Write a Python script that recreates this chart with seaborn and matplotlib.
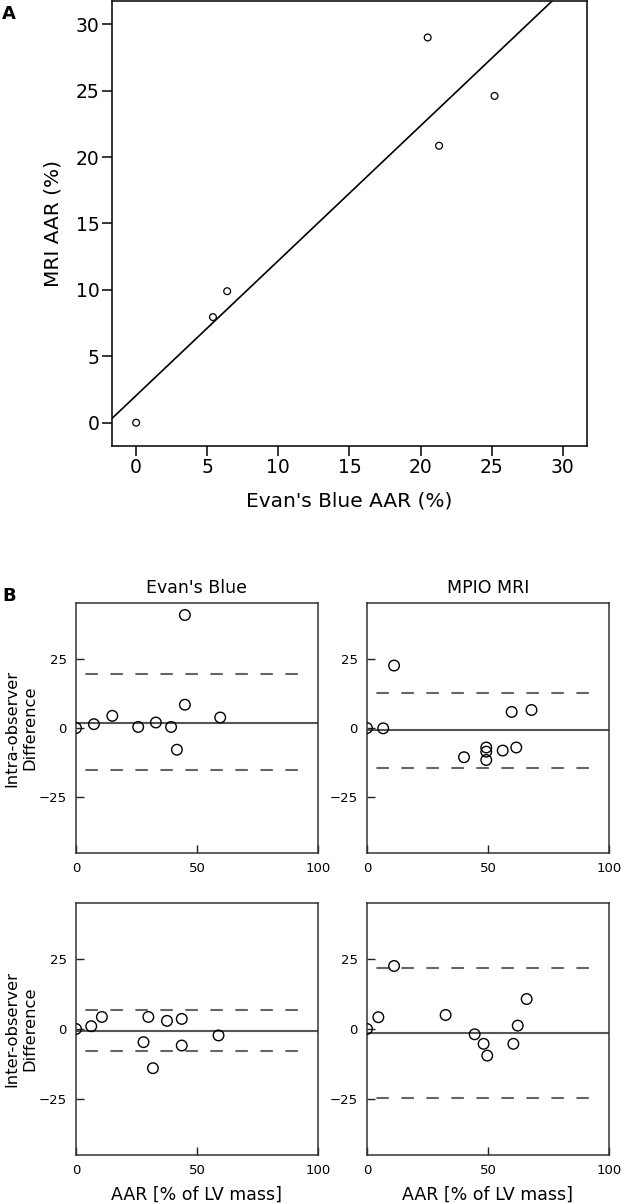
import numpy as np
import pandas as pd
import matplotlib
matplotlib.use("Agg")
import matplotlib.pyplot as plt
import seaborn as sns

# ---------------- panel A: MRI vs Evan's Blue ----------------
evans_aar = [0.0, 5.4, 6.4, 20.5, 21.3, 25.2]
mri_aar = [0.0, 7.95, 9.9, 29.0, 20.85, 24.6]

# ---------------- panel B: Bland-Altman ----------------
intra_eb_x = [0.0, 7.4, 15.0, 25.7, 33.0, 39.3, 41.7, 45.0, 45.0, 59.6]
intra_eb_y = [0.0, 1.4, 4.4, 0.4, 2.0, 0.4, -7.8, 8.4, 40.7, 3.8]
intra_eb_lines = [2.0, 19.5, -15.0]  # media, limite sup, limite inf

intra_mri_x = [0.0, 6.7, 11.2, 40.1, 49.3, 49.3, 49.3, 56.1, 59.8, 61.7, 68.0]
intra_mri_y = [0.0, -0.1, 22.5, -10.5, -7.0, -8.5, -11.5, -8.1, 5.8, -7.0, 6.5]
intra_mri_lines = [-0.8, 12.6, -14.5]

inter_eb_x = [0.0, 6.3, 10.7, 27.9, 29.9, 31.8, 37.6, 43.7, 43.7, 58.9]
inter_eb_y = [0.0, 1.0, 4.3, -4.7, 4.3, -14.0, 2.9, 3.6, -5.9, -2.3]
inter_eb_lines = [-0.6, 6.9, -7.9]

inter_mri_x = [0.0, 4.7, 11.2, 32.5, 44.5, 48.2, 49.7, 60.5, 62.3, 66.0]
inter_mri_y = [0.0, 4.2, 22.5, 5.0, -1.9, -5.3, -9.5, -5.3, 1.2, 10.7]
inter_mri_lines = [-1.4, 21.9, -24.8]

col_titles = ["Evan's Blue", "MPIO MRI"]
row_labels = ["Intra-observer\nDifference", "Inter-observer\nDifference"]
x_label_b = "AAR [% of LV mass]"

sns.set_style("white")
plt.rcParams['font.family'] = ['DejaVu Sans']
plt.rcParams['text.color'] = 'black'
plt.rcParams['axes.labelcolor'] = 'black'
plt.rcParams['xtick.color'] = 'black'
plt.rcParams['ytick.color'] = 'black'

W, H = 622, 1203
fig = plt.figure(figsize=(W / 100, H / 100), dpi=100)

#---------------- panel A ----------------
axA = fig.add_axes([0.180, 0.6293, 0.7637, 0.3699])
axA.set_xlim(-1.7, 31.7)
axA.set_ylim(-1.75, 31.75)
sns.regplot(x=evans_aar, y=mri_aar, ax=axA, ci=None, scatter=False, truncate=False,
            color='black', line_kws={'lw': 1.2})
sns.scatterplot(x=evans_aar, y=mri_aar, ax=axA, marker='o', s=24,
                facecolor='none', edgecolor='black', linewidth=0.9)
axA.set_xlim(-1.7, 31.7)
axA.set_ylim(-1.75, 31.75)
axA.set_xticks(range(0, 31, 5))
axA.set_yticks(range(0, 31, 5))
axA.tick_params(bottom=True, left=True, direction='out', length=7, width=1.1,
                labelsize=13.5, pad=2, color='black')
for s in axA.spines.values():
    s.set_color('black')
    s.set_linewidth(1.1)
axA.set_xlabel("Evan's Blue AAR (%)", fontsize=14.5)
axA.set_ylabel("MRI AAR (%)", fontsize=14.5)
axA.xaxis.set_label_coords(0.5, -0.103)
axA.yaxis.set_label_coords(-0.105, 0.5)
fig.text(9 / W, 1 - 14 / H, 'A', fontsize=13, weight='bold', ha='center', va='center')

#---------------- panel B ----------------
posiciones = [[0.1222, 0.2909, 0.389, 0.2078], [0.590, 0.2909, 0.389, 0.2078],
              [0.1222, 0.0399, 0.389, 0.2095], [0.590, 0.0399, 0.389, 0.2095]]
datos = [(intra_eb_x, intra_eb_y, intra_eb_lines),
         (intra_mri_x, intra_mri_y, intra_mri_lines),
         (inter_eb_x, inter_eb_y, inter_eb_lines),
         (inter_mri_x, inter_mri_y, inter_mri_lines)]

for i, (pos, (bx, by, lineas)) in enumerate(zip(posiciones, datos)):
    ax = fig.add_axes(pos)
    fila, col = divmod(i, 2)
    ax.axhline(lineas[0], color='#555555', lw=1.5, zorder=1)
    for lim in lineas[1:]:
        ax.hlines(lim, 0, 95, color='#666666', lw=1.5, linestyle=(7.5, (6, 6)), zorder=1)
    sns.scatterplot(x=bx, y=by, ax=ax, marker='o', s=58, facecolor='none',
                    edgecolor='black', linewidth=1.0, zorder=3)
    ax.set_xlim(0, 100)
    ax.set_ylim(-45, 45)
    ax.set_xticks([0, 50, 100])
    ax.set_yticks([-25, 0, 25])
    ax.tick_params(bottom=True, left=True, direction='in', length=6, width=1,
                   labelsize=9.5, pad=6.5, color='#222222')
    for s in ax.spines.values():
        s.set_color('#333333')
        s.set_linewidth(1.1)
    if fila == 0:
        ax.set_title(col_titles[col], fontsize=12.5, pad=7)
    if fila == 1:
        ax.set_xlabel(x_label_b, fontsize=12.5)
        ax.xaxis.set_label_coords(0.5, -0.123)
    if col == 0:
        ax.set_ylabel(row_labels[fila], fontsize=11.8, linespacing=1.2)
        ax.yaxis.set_label_coords(-0.161, 0.5)

fig.text(9 / W, 1 - 596 / H, 'B', fontsize=13, weight='bold', ha='center', va='center')

fig.savefig('out.png', dpi=100)
